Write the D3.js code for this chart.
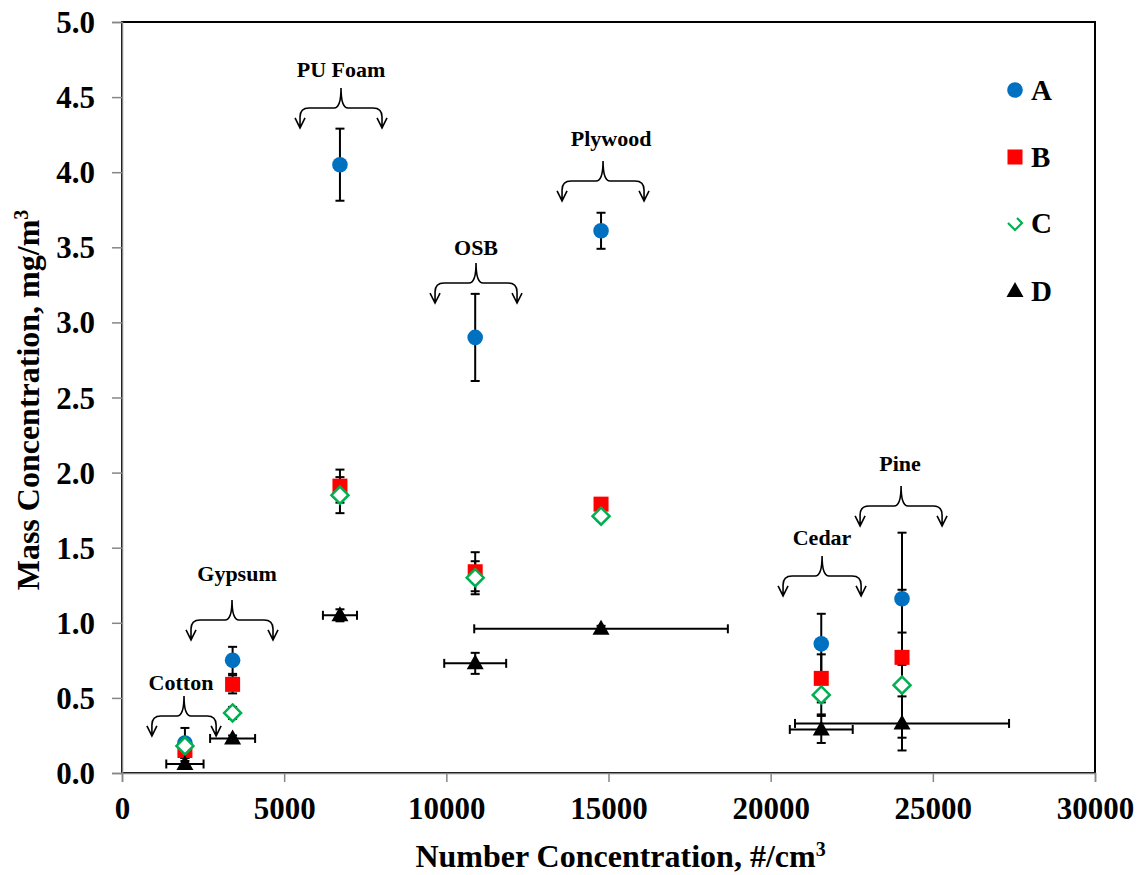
<!DOCTYPE html>
<html>
<head>
<meta charset="utf-8">
<script src="https://cdn.jsdelivr.net/npm/d3@7"></script>
<style>
  html, body { margin: 0; padding: 0; background: #fff; }
  svg text { font-family: "Liberation Serif", "Times New Roman", serif; font-weight: bold; fill: #000; }
</style>
</head>
<body>
<svg id="chart" width="1143" height="875"></svg>
<script>
// ---------- data ----------
const materials   = ["Cotton", "Gypsum", "PU Foam", "OSB", "Plywood", "Cedar", "Pine"];
const numberConc  = [1940, 3410, 6720, 10890, 14770, 21560, 24050];
const numberErr   = [575, 694, 525, 955, 3910, 970, 3300];
const massA = [0.20, 0.75, 4.05, 2.90, 3.61, 0.86, 1.16];
const errA  = [0.10, 0.09, 0.24, 0.29, 0.12, 0.20, 0.44];
const massB = [0.15, 0.59, 1.91, 1.34, 1.79, 0.63, 0.77];
const errB  = [0.05, 0.06, 0.11, 0.13, 0.04, 0.16, 0.45];
const massC = [0.18, 0.40, 1.85, 1.30, 1.71, 0.52, 0.585];
const errC  = [0.03, 0.04, 0.12, 0.11, 0.03, 0.13, 0.35];
const massD = [0.06, 0.23, 1.05, 0.73, 0.96, 0.29, 0.33];
const errD  = [0.02, 0.02, 0.04, 0.07, 0.02, 0.09, 0.18];
const seriesNames = ["A", "B", "C", "D"];
const xTicks = [0, 5000, 10000, 15000, 20000, 25000, 30000];
const yTicks = [0, 0.5, 1.0, 1.5, 2.0, 2.5, 3.0, 3.5, 4.0, 4.5, 5.0];
// annotation anchors (data units): label position and brace tip
const annLabel  = ["Cotton", "Gypsum", "PU Foam", "OSB", "Plywood", "Cedar", "Pine"];
const annLabelX = [1819, 3546, 6753, 10916, 15079, 21585, 23990];
const annLabelY = [0.553, 1.278, 4.634, 3.449, 4.174, 1.518, 2.011];
const annTipX   = [1912, 3392, 6753, 10916, 14832, 21585, 24021];
const annTipY   = [0.513, 1.152, 4.561, 3.395, 4.075, 1.445, 1.911];
const annHalfW  = [990, 1264, 1264, 1264, 1264, 1203, 1264];

// ---------- layout ----------
const svg = d3.select("#chart");
const W = 1143, H = 875;
const m = { left: 122, right: 1095, top: 22, bottom: 773 };
svg.append("rect").attr("width", W).attr("height", H).attr("fill", "#fff");

const x = d3.scaleLinear().domain([0, 30000]).range([m.left, m.right]);
const y = d3.scaleLinear().domain([0, 5]).range([m.bottom, m.top]);

// plot border
svg.append("rect")
  .attr("x", m.left).attr("y", m.top)
  .attr("width", m.right - m.left).attr("height", m.bottom - m.top)
  .attr("fill", "none").attr("stroke", "#000").attr("stroke-width", 2);

// axes
const yAxis = svg.append("g").attr("transform", `translate(${m.left},0)`)
  .call(d3.axisLeft(y).tickValues(yTicks).tickFormat(d3.format(".1f")).tickSize(10).tickPadding(17));
const xAxis = svg.append("g").attr("transform", `translate(0,${m.bottom})`)
  .call(d3.axisBottom(x).tickValues(xTicks).tickFormat(d3.format("d")).tickSize(9).tickPadding(18));
[yAxis, xAxis].forEach(g => {
  g.select(".domain").attr("stroke", "#868686").attr("stroke-width", 1.5);
  g.selectAll(".tick line").attr("stroke", "#868686").attr("stroke-width", 1.5);
  g.selectAll(".tick text").style("font-family", '"Liberation Serif", "Times New Roman", serif')
    .style("font-weight", "bold").attr("fill", "#000");
});
yAxis.selectAll(".tick text").style("font-size", "31px").attr("dy", "0.34em");
xAxis.selectAll(".tick text").style("font-size", "31px").attr("dy", "0.62em");

// axis titles
const xt = svg.append("text").attr("x", (m.left + m.right) / 2 + 12).attr("y", 867)
  .attr("text-anchor", "middle").style("font-size", "32px");
xt.append("tspan").text("Number Concentration, #/cm");
xt.append("tspan").text("3").style("font-size", "20px").attr("dy", "-11");

const yt = svg.append("text").attr("transform", "translate(39,400) rotate(-90)")
  .attr("text-anchor", "middle").style("font-size", "32px");
yt.append("tspan").text("Mass Concentration, mg/m");
yt.append("tspan").text("3").style("font-size", "20px").attr("dy", "-11");

// ---------- series ----------
const series = [
  { name: "A", vals: massA, errs: errA, color: "#0070C0", shape: "circle" },
  { name: "B", vals: massB, errs: errB, color: "#FF0000", shape: "square" },
  { name: "C", vals: massC, errs: errC, color: "#00B050", shape: "diamond" },
  { name: "D", vals: massD, errs: errD, color: "#000000", shape: "triangle" }
];
const cap = 4.5;
const eb = svg.append("g").attr("stroke", "#000").attr("stroke-width", 2).attr("fill", "none");
series.forEach(s => {
  s.vals.forEach((v, i) => {
    const cx = x(numberConc[i]);
    const y1 = y(v + s.errs[i]), y2 = y(v - s.errs[i]);
    eb.append("line").attr("x1", cx).attr("x2", cx).attr("y1", y1).attr("y2", y2);
    eb.append("line").attr("x1", cx - cap).attr("x2", cx + cap).attr("y1", y1).attr("y2", y1);
    eb.append("line").attr("x1", cx - cap).attr("x2", cx + cap).attr("y1", y2).attr("y2", y2);
  });
});
// horizontal error bars for D
massD.forEach((v, i) => {
  const cy = y(v);
  const x1 = x(numberConc[i] - numberErr[i]), x2 = x(numberConc[i] + numberErr[i]);
  eb.append("line").attr("x1", x1).attr("x2", x2).attr("y1", cy).attr("y2", cy);
  eb.append("line").attr("x1", x1).attr("x2", x1).attr("y1", cy - cap).attr("y2", cy + cap);
  eb.append("line").attr("x1", x2).attr("x2", x2).attr("y1", cy - cap).attr("y2", cy + cap);
});

function drawMarker(g, shape, color, cx, cy) {
  if (shape === "circle") {
    g.append("circle").attr("cx", cx).attr("cy", cy).attr("r", 7.8).attr("fill", color);
  } else if (shape === "square") {
    g.append("rect").attr("x", cx - 7.5).attr("y", cy - 7.5).attr("width", 15).attr("height", 15).attr("fill", color);
  } else if (shape === "diamond") {
    g.append("path").attr("d", `M${cx},${cy - 8.5}L${cx + 8.5},${cy}L${cx},${cy + 8.5}L${cx - 8.5},${cy}Z`)
      .attr("fill", "#fff").attr("stroke", color).attr("stroke-width", 2.5);
  } else {
    g.append("path").attr("d", `M${cx},${cy - 9}L${cx + 8.5},${cy + 6}L${cx - 8.5},${cy + 6}Z`).attr("fill", color);
  }
}
const mk = svg.append("g");
series.forEach(s => {
  s.vals.forEach((v, i) => drawMarker(mk, s.shape, s.color, x(numberConc[i]), y(v)));
});

// ---------- annotations (braces) ----------
const ag = svg.append("g");
annLabel.forEach((lab, i) => {
  ag.append("text").attr("x", x(annLabelX[i])).attr("y", y(annLabelY[i]))
    .attr("text-anchor", "middle").style("font-size", "22px").text(lab);
  const cx = x(annTipX[i]), ty = y(annTipY[i]);
  const hw = x(annTipX[i] + annHalfW[i]) - cx;
  const hy = ty + 20, ay = hy + 20;
  const d =
    `M${cx},${ty} Q${cx},${hy} ${cx - 7},${hy} L${cx - hw + 9},${hy} Q${cx - hw},${hy} ${cx - hw},${hy + 9} L${cx - hw},${ay}` +
    ` M${cx},${ty} Q${cx},${hy} ${cx + 7},${hy} L${cx + hw - 9},${hy} Q${cx + hw},${hy} ${cx + hw},${hy + 9} L${cx + hw},${ay}` +
    ` M${cx - hw - 5},${ay - 10} L${cx - hw},${ay} L${cx - hw + 5},${ay - 10}` +
    ` M${cx + hw - 5},${ay - 10} L${cx + hw},${ay} L${cx + hw + 5},${ay - 10}`;
  ag.append("path").attr("d", d).attr("fill", "none").attr("stroke", "#000").attr("stroke-width", 1.6);
});

// ---------- legend ----------
const legY = [90, 157, 223, 291];
const lg = svg.append("g");
series.forEach((s, i) => {
  const cx = 1015, cy = legY[i];
  if (s.shape === "diamond") {
    lg.append("path").attr("d", `M${cx - 7},${cy} L${cx},${cy + 7} L${cx + 7},${cy} L${cx + 2},${cy - 5}`)
      .attr("fill", "none").attr("stroke", s.color).attr("stroke-width", 2.2);
  } else {
    drawMarker(lg, s.shape, s.color, cx, cy);
  }
  lg.append("text").attr("x", 1031).attr("y", cy + 10).style("font-size", "29px").text(seriesNames[i]);
});
</script>
</body>
</html>
